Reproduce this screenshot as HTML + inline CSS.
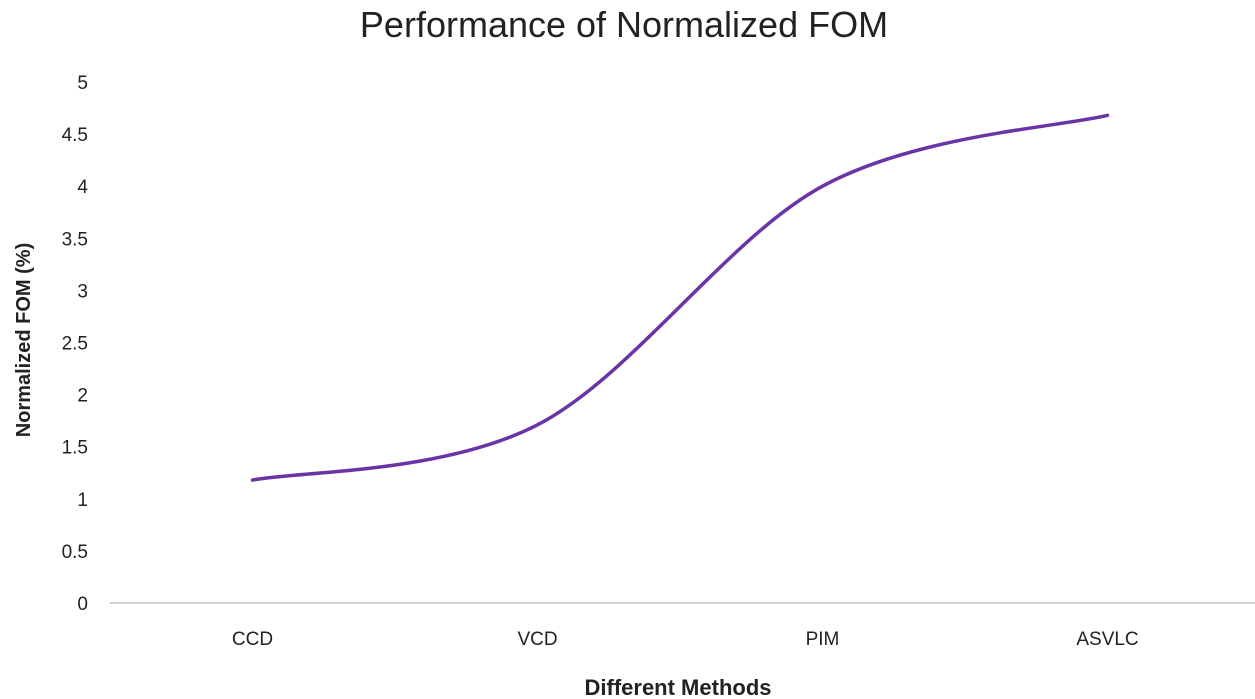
<!DOCTYPE html>
<html><head><meta charset="utf-8"><style>
body{margin:0;background:#fff;}
svg{display:block;font-family:"Liberation Sans",sans-serif;}
</style></head><body>
<svg id="chart" width="1255" height="699" viewBox="0 0 1255 699">
<text x="624" y="37" text-anchor="middle" font-size="36" fill="#222">Performance of Normalized FOM</text>
<text transform="translate(30,340) rotate(-90)" text-anchor="middle" font-size="20" font-weight="bold" fill="#222">Normalized FOM  (%)</text>
<text x="678" y="695" text-anchor="middle" font-size="22" font-weight="bold" fill="#222">Different Methods</text>
<g id="yticks"></g><g id="xticks"></g><g id="series"></g>
</svg>
<script>
const categories = ["CCD","VCD","PIM","ASVLC"];
const fomValues = [1.18, 1.71, 4.0, 4.68];
const yTickLabels = ["0","0.5","1","1.5","2","2.5","3","3.5","4","4.5","5"];
const yMax = 5;
const plotL=110, plotR=1250, plotT=82, plotB=603;
const ns="http://www.w3.org/2000/svg";
const svg=document.getElementById('chart');
function yScale(v){return plotB-(v/yMax)*(plotB-plotT);}
function xScale(i){const bw=(plotR-plotL)/categories.length;return plotL+bw*(i+0.5);}
const yt=document.getElementById('yticks');
yTickLabels.forEach((lab)=>{
  const t=document.createElementNS(ns,'text');
  
  
  t.setAttribute('x',88);t.setAttribute('y',yScale(parseFloat(lab))+7);
  t.setAttribute('text-anchor','end');t.setAttribute('font-size','19');t.setAttribute('fill','#222');
  t.textContent=lab;yt.appendChild(t);
});
const ax=document.createElementNS(ns,'line');


ax.setAttribute('x1',plotL);ax.setAttribute('x2',1255);ax.setAttribute('y1',plotB);ax.setAttribute('y2',plotB);
ax.setAttribute('stroke','#d0d0d0');ax.setAttribute('stroke-width','2');
svg.appendChild(ax);
const xt=document.getElementById('xticks');
categories.forEach((c,i)=>{
  const t=document.createElementNS(ns,'text');
  
  
  t.setAttribute('x',xScale(i));t.setAttribute('y',645);
  t.setAttribute('text-anchor','middle');t.setAttribute('font-size','19');t.setAttribute('fill','#222');
  t.textContent=c;xt.appendChild(t);
});
const pts=fomValues.map((v,i)=>[xScale(i),yScale(v)]);
let d='M'+pts[0][0]+','+pts[0][1];
for(let i=0;i<pts.length-1;i++){
  const p0=pts[Math.max(0,i-1)],p1=pts[i],p2=pts[i+1],p3=pts[Math.min(pts.length-1,i+2)];
  const k=1/6;
  const c1=[p1[0]+(p2[0]-p0[0])*k,p1[1]+(p2[1]-p0[1])*k];
  const c2=[p2[0]-(p3[0]-p1[0])*k,p2[1]-(p3[1]-p1[1])*k];
  d+=' C'+c1[0]+','+c1[1]+' '+c2[0]+','+c2[1]+' '+p2[0]+','+p2[1];
}
const path=document.createElementNS(ns,'path');


path.setAttribute('d',d);path.setAttribute('fill','none');
path.setAttribute('stroke','#6a34a6');path.setAttribute('stroke-width','3.5');path.setAttribute('stroke-linecap','round');
document.getElementById('series').appendChild(path);
</script>
</body></html>
